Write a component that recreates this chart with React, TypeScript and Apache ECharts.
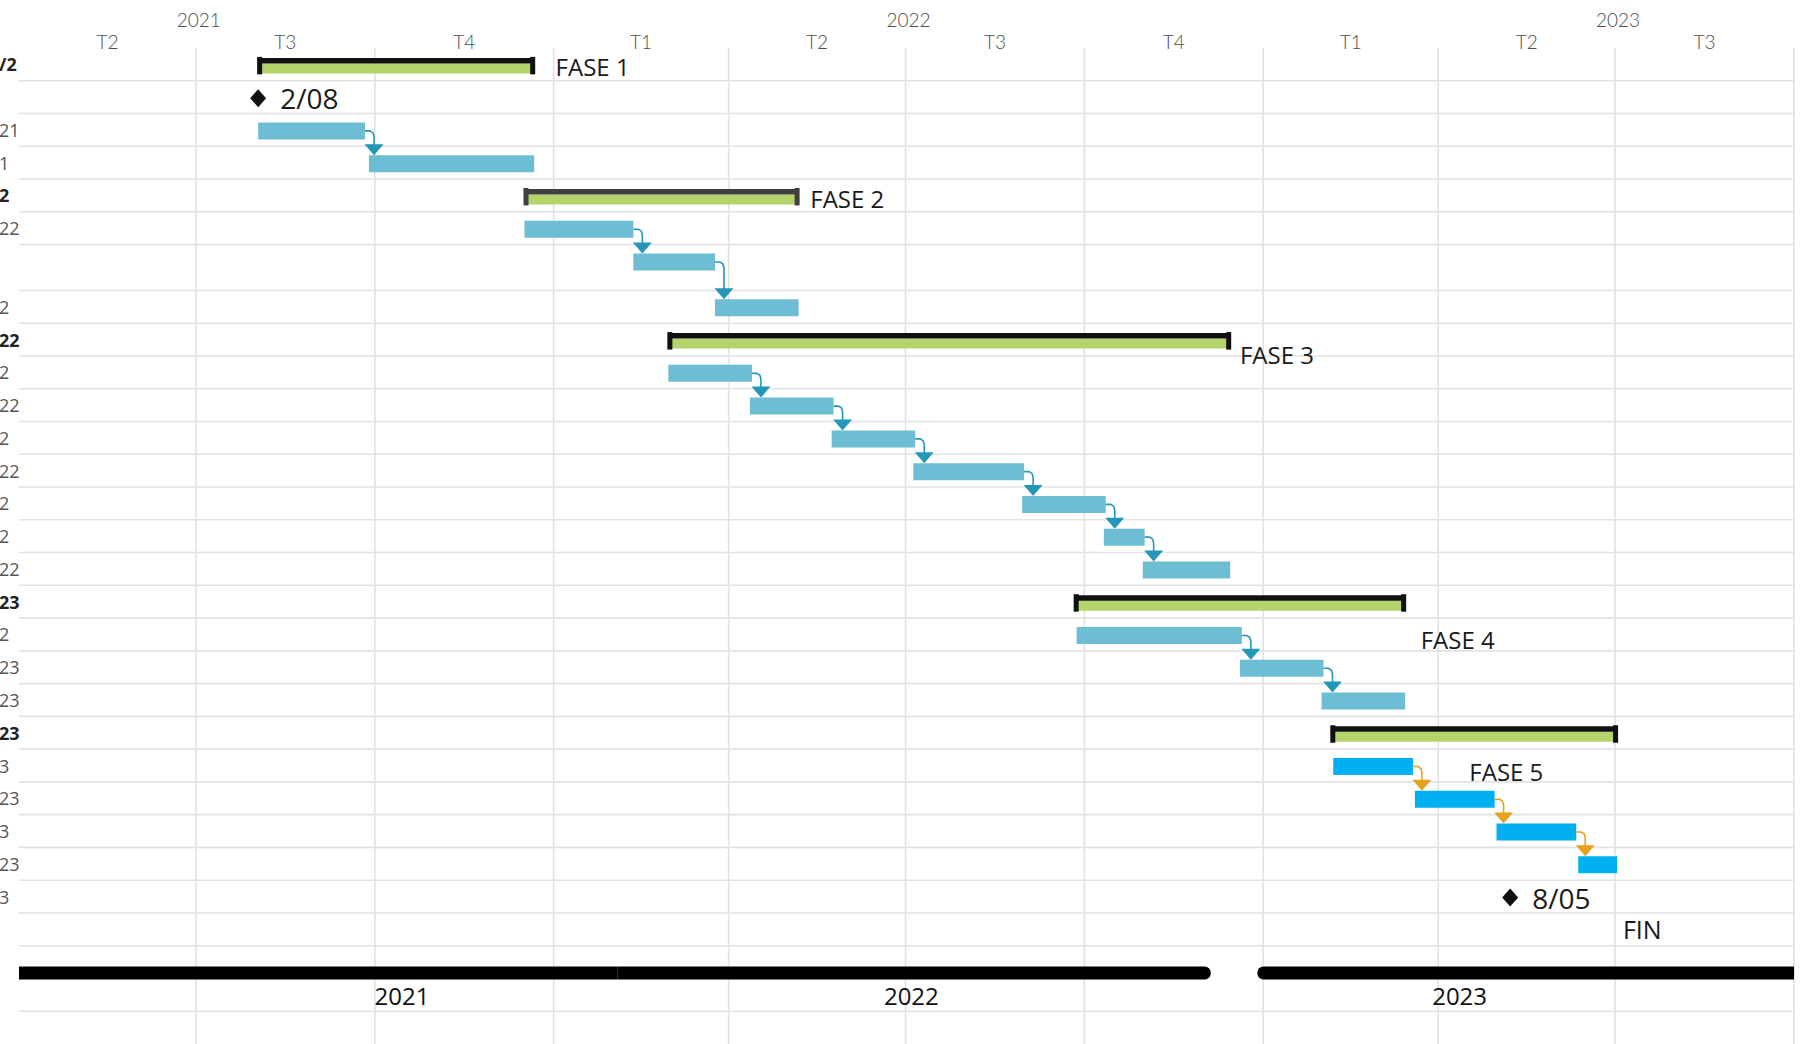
import React, { useEffect, useRef } from "react";
import * as echarts from "echarts";

// ---------- time scale / tick labels ----------
const quarterBounds = ["2021-04-01", "2021-07-01", "2021-10-01", "2022-01-01", "2022-04-01", "2022-07-01", "2022-10-01", "2023-01-01", "2023-04-01", "2023-07-01", "2023-10-01"];
const quarterLabels = ["T2", "T3", "T4", "T1", "T2", "T3", "T4", "T1", "T2", "T3"];
const yearStarts = ["2021-01-01", "2022-01-01", "2023-01-01", "2024-01-01"];
const yearLabels = ["2021", "2022", "2023"];

// ---------- left column (cut by the page edge) ----------
const rowLabels = ["/2", "", "21", "1", "2", "22", "", "2", "22", "2", "22", "2", "22", "2", "2", "22", "23", "2", "23", "23", "23", "3", "23", "3", "23", "3", "", "", ""];
const summaryRows = [0, 4, 8, 16, 20];

// ---------- phases (summary bars) ----------
const phaseNames = ["FASE 1", "FASE 2", "FASE 3", "FASE 4", "FASE 5"];
const phaseStart = ["2021-08-02", "2021-12-17", "2022-03-01", "2022-09-26", "2023-02-05"];
const phaseEnd = ["2021-12-22", "2022-05-07", "2022-12-15", "2023-03-15", "2023-07-02"];
const phaseLabelDate = ["2022-01-02", "2022-05-13", "2022-12-20", "2023-03-23", "2023-04-17"];
const phaseLabelRow = [0, 4, 8, 17, 21];

// ---------- tasks ----------
const taskRow = [2, 3, 5, 6, 7, 9, 10, 11, 12, 13, 14, 15, 17, 18, 19, 21, 22, 23, 24];
const taskPhase = [0, 0, 1, 1, 1, 2, 2, 2, 2, 2, 2, 2, 3, 3, 3, 4, 4, 4, 4];
const taskStart = ["2021-08-02", "2021-09-28", "2021-12-17", "2022-02-11", "2022-03-25", "2022-03-01", "2022-04-12", "2022-05-24", "2022-07-05", "2022-08-30", "2022-10-11", "2022-10-31", "2022-09-27", "2022-12-20", "2023-01-31", "2023-02-06", "2023-03-20", "2023-05-01", "2023-06-12"];
const taskEnd = ["2021-09-26", "2021-12-22", "2022-02-11", "2022-03-25", "2022-05-07", "2022-04-13", "2022-05-25", "2022-07-06", "2022-08-31", "2022-10-12", "2022-11-01", "2022-12-15", "2022-12-21", "2023-02-01", "2023-03-15", "2023-03-19", "2023-04-30", "2023-06-11", "2023-07-02"];

// ---------- milestones / notes ----------
const milestoneRow = [1, 25];
const milestoneDate = ["2021-08-02", "2023-05-08"];
const milestoneText = ["2/08", "8/05"];
const noteText = ["FIN"];
const noteDate = ["2023-07-05"];
const noteRow = [26];

// ---------- bottom year timeline ----------
const timelineLabels = ["2021", "2022", "2023"];
const timelineStart = ["2021-04-01", "2022-02-03", "2022-12-29"];
const timelineEnd = ["2022-02-03", "2022-12-05", "2023-10-01"];
const timelineLabelDate = ["2021-10-15", "2022-07-04", "2023-04-12"];
const timelineRow = 27;

// ---------- layout / style (not data) ----------
const ROW_SPAN: Record<number, number> = { 6: 1.4, 27: 2 };
const PHASE_LABEL_OFFSET = [0.55, 0.6, 0.94, 0.64, 0.67];
const TOP_Q_Y = -0.2;
const TOP_Y_Y = -0.86;
const GRID_COLOR = "#e2e2e2";
const TASK_COLOR = ["#6dbdd4", "#6dbdd4", "#6dbdd4", "#6dbdd4", "#00b0f0"];
const ARROW_COLOR = ["#2497b8", "#2497b8", "#2497b8", "#2497b8", "#e6a21f"];
const PHASE_TOP = ["#111111", "#404040", "#111111", "#111111", "#111111"];
const GREEN = "#b3d36b";
const FONT = "'Open Sans', 'Noto Sans', sans-serif";
const LIGHT_FONT = "Lato, 'Open Sans', sans-serif";

const ts = (s: string) => Date.parse(s + "T00:00:00Z");

export default function App() {
  const ref = useRef<HTMLDivElement>(null);

  useEffect(() => {
    if (!ref.current) return;
    const chart = echarts.init(ref.current, null, { renderer: "svg" });

    const tops: number[] = [];
    let acc = 0;
    rowLabels.forEach((_, i) => {
      tops.push(acc);
      acc += ROW_SPAN[i] ?? 1;
    });
    const yMax = acc;
    const xMin = ts(quarterBounds[0]);
    const xMax = ts(quarterBounds[quarterBounds.length - 1]);

    const textEl = (x: number, y: number, text: string, s: any) => ({
      type: "text",
      x,
      y,
      style: {
        text,
        align: s.align ?? "left",
        verticalAlign: "middle",
        fill: s.fill ?? "#1a1a1a",
        fontSize: s.fontSize ?? 22,
        fontFamily: s.fontFamily ?? FONT,
        fontWeight: s.fontWeight ?? "normal",
      },
    });

    const series: any[] = [];

    // vertical grid lines at quarter boundaries
    series.push({
      type: "custom",
      silent: true,
      clip: false,
      data: quarterBounds.slice(1).map((d) => [ts(d), 0]),
      renderItem: (_p: any, api: any) => {
        const a = api.coord([api.value(0), 0]);
        const b = api.coord([api.value(0), yMax]);
        return { type: "line", shape: { x1: a[0], y1: a[1], x2: b[0], y2: b[1] }, style: { stroke: GRID_COLOR, lineWidth: 1.6 } };
      },
    });

    // horizontal row lines
    series.push({
      type: "custom",
      silent: true,
      clip: false,
      data: tops.slice(1).map((t) => [xMin, t]),
      renderItem: (_p: any, api: any) => {
        const a = api.coord([xMin, api.value(1)]);
        const b = api.coord([xMax, api.value(1)]);
        return { type: "line", shape: { x1: a[0], y1: a[1], x2: b[0], y2: b[1] }, style: { stroke: GRID_COLOR, lineWidth: 1.6 } };
      },
    });

    // top quarter labels
    series.push({
      type: "custom",
      silent: true,
      clip: false,
      data: quarterLabels.map((_, i) => [(ts(quarterBounds[i]) + ts(quarterBounds[i + 1])) / 2, TOP_Q_Y, i]),
      renderItem: (_p: any, api: any) => {
        const c = api.coord([api.value(0), api.value(1)]);
        return textEl(c[0], c[1], quarterLabels[api.value(2)], { align: "center", fill: "#4d4d4d", fontSize: 19, fontFamily: LIGHT_FONT, fontWeight: 300 });
      },
    });

    // top year labels
    series.push({
      type: "custom",
      silent: true,
      clip: false,
      data: yearLabels.map((_, i) => [(ts(yearStarts[i]) + ts(yearStarts[i + 1])) / 2, TOP_Y_Y, i]),
      renderItem: (_p: any, api: any) => {
        const c = api.coord([api.value(0), api.value(1)]);
        return textEl(c[0], c[1], yearLabels[api.value(2)], { align: "center", fill: "#4d4d4d", fontSize: 19, fontFamily: LIGHT_FONT, fontWeight: 300 });
      },
    });

    // left row labels
    series.push({
      type: "custom",
      silent: true,
      clip: false,
      data: rowLabels.map((_, i) => [xMin, tops[i] + 0.5, i]),
      renderItem: (_p: any, api: any) => {
        const i = api.value(2);
        if (!rowLabels[i]) return null;
        const c = api.coord([api.value(0), api.value(1)]);
        const bold = summaryRows.includes(i);
        return textEl(c[0] - 20, c[1], rowLabels[i], { fill: bold ? "#222222" : "#555555", fontSize: 18, fontWeight: bold ? "bold" : "normal" });
      },
    });

    // summary bars
    series.push({
      type: "custom",
      clip: false,
      data: phaseNames.map((_, i) => [ts(phaseStart[i]), tops[summaryRows[i]] + 0.5, ts(phaseEnd[i]), i]),
      renderItem: (_p: any, api: any) => {
        const a = api.coord([api.value(0), api.value(1)]);
        const b = api.coord([api.value(2), api.value(1)]);
        const i = api.value(3);
        const cy = a[1] + 1;
        const top = cy - 7.5;
        return {
          type: "group",
          children: [
            { type: "rect", shape: { x: a[0], y: top + 5.5, width: b[0] - a[0], height: 10 }, style: { fill: GREEN } },
            { type: "rect", shape: { x: a[0], y: top, width: b[0] - a[0], height: 5.5 }, style: { fill: PHASE_TOP[i] } },
            { type: "rect", shape: { x: a[0] - 1, y: top - 1, width: 5, height: 17.5 }, style: { fill: PHASE_TOP[i] } },
            { type: "rect", shape: { x: b[0] - 4, y: top - 1, width: 5, height: 17.5 }, style: { fill: PHASE_TOP[i] } },
          ],
        };
      },
    });

    // task bars
    series.push({
      type: "custom",
      clip: false,
      data: taskRow.map((r, i) => [ts(taskStart[i]), tops[r] + 0.5, ts(taskEnd[i]), taskPhase[i]]),
      renderItem: (_p: any, api: any) => {
        const a = api.coord([api.value(0), api.value(1)]);
        const b = api.coord([api.value(2), api.value(1)]);
        return { type: "rect", shape: { x: a[0], y: a[1] + 1 - 8.5, width: b[0] - a[0], height: 17 }, style: { fill: TASK_COLOR[api.value(3)] } };
      },
    });

    // dependency arrows (finish -> start inside each phase)
    const deps: number[][] = [];
    for (let i = 0; i < taskRow.length - 1; i++) {
      if (taskPhase[i] === taskPhase[i + 1]) {
        deps.push([ts(taskEnd[i]), tops[taskRow[i]] + 0.5, ts(taskStart[i + 1]), tops[taskRow[i + 1]] + 0.5, taskPhase[i]]);
      }
    }
    series.push({
      type: "custom",
      clip: false,
      data: deps,
      renderItem: (_p: any, api: any) => {
        const a = api.coord([api.value(0), api.value(1)]);
        const b = api.coord([api.value(2), api.value(3)]);
        const col = ARROW_COLOR[api.value(4)];
        const y1 = a[1] + 1;
        const nextTop = b[1] + 1 - 8.5;
        const xa = a[0] + 9;
        const triTop = nextTop - 11;
        return {
          type: "group",
          children: [
            {
              type: "polyline",
              shape: { points: [[a[0], y1], [xa - 4, y1], [xa - 1, y1 + 2], [xa, y1 + 6], [xa, triTop + 1]] },
              style: { stroke: col, lineWidth: 1.6, fill: null },
            },
            { type: "polygon", shape: { points: [[xa - 9.5, triTop], [xa + 9.5, triTop], [xa, nextTop]] }, style: { fill: col } },
          ],
        };
      },
    });

    // milestones
    series.push({
      type: "custom",
      clip: false,
      data: milestoneRow.map((r, i) => [ts(milestoneDate[i]), tops[r] + 0.5, i]),
      renderItem: (_p: any, api: any) => {
        const c = api.coord([api.value(0), api.value(1)]);
        const x = c[0];
        const y = c[1] + 1;
        return {
          type: "group",
          children: [
            { type: "polygon", shape: { points: [[x, y - 9], [x + 8, y], [x, y + 9], [x - 8, y]] }, style: { fill: "#111111" } },
            textEl(x + 22, y, milestoneText[api.value(2)], { fontSize: 28, fill: "#1a1a1a" }),
          ],
        };
      },
    });

    // phase labels and notes
    series.push({
      type: "custom",
      silent: true,
      clip: false,
      data: phaseNames.map((_, i) => [ts(phaseLabelDate[i]), tops[phaseLabelRow[i]] + PHASE_LABEL_OFFSET[i], i]),
      renderItem: (_p: any, api: any) => {
        const c = api.coord([api.value(0), api.value(1)]);
        return textEl(c[0], c[1], phaseNames[api.value(2)], { fontSize: 24 });
      },
    });
    series.push({
      type: "custom",
      silent: true,
      clip: false,
      data: noteText.map((_, i) => [ts(noteDate[i]), tops[noteRow[i]] + 0.5, i]),
      renderItem: (_p: any, api: any) => {
        const c = api.coord([api.value(0), api.value(1)]);
        return textEl(c[0], c[1], noteText[api.value(2)], { fontSize: 25 });
      },
    });

    // bottom year timeline
    series.push({
      type: "custom",
      clip: false,
      data: timelineLabels.map((_, i) => [ts(timelineStart[i]), tops[timelineRow] + 0.83, ts(timelineEnd[i]), i]),
      renderItem: (_p: any, api: any) => {
        const i = api.value(3);
        const a = api.coord([api.value(0), api.value(1)]);
        const b = api.coord([api.value(2), api.value(1)]);
        const roundL = i > 0 && timelineStart[i] !== timelineEnd[i - 1];
        const roundR = i < timelineLabels.length - 1 && timelineEnd[i] !== timelineStart[i + 1];
        const r = [roundL ? 6 : 0, roundR ? 6 : 0, roundR ? 6 : 0, roundL ? 6 : 0];
        return { type: "rect", shape: { x: a[0], y: a[1] - 6.5, width: b[0] - a[0], height: 13, r }, style: { fill: "#000000" } };
      },
    });
    series.push({
      type: "custom",
      silent: true,
      clip: false,
      data: timelineLabels.map((_, i) => [ts(timelineLabelDate[i]), tops[timelineRow] + 1.52, i]),
      renderItem: (_p: any, api: any) => {
        const c = api.coord([api.value(0), api.value(1)]);
        return textEl(c[0], c[1], timelineLabels[api.value(2)], { align: "center", fontSize: 24, fill: "#111111" });
      },
    });

    chart.setOption({
      animation: false,
      backgroundColor: "#ffffff",
      grid: { left: 19, right: 12, top: 48, bottom: -5 },
      xAxis: { type: "value", min: xMin, max: xMax, show: false },
      yAxis: { type: "value", inverse: true, min: 0, max: yMax, show: false },
      series,
    });

    return () => chart.dispose();
  }, []);

  return (
    <div
      ref={ref}
      style={{ position: "fixed", left: 0, top: 0, width: 1806, height: 1044, background: "#ffffff", overflow: "hidden" }}
    />
  );
}
